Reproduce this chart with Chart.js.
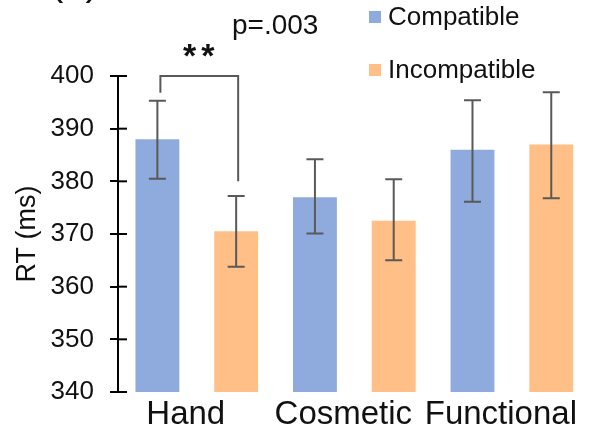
<!DOCTYPE html>
<html>
<head>
<meta charset="utf-8">
<script src="https://cdn.jsdelivr.net/npm/chart.js@4.4.1/dist/chart.umd.min.js"></script>
<style>
  html, body { margin: 0; padding: 0; background: #fff; }
  canvas { display: block; }
</style>
</head>
<body>
<canvas id="rtChart" width="591" height="432"></canvas>
<script>
const categories = ["Hand", "Cosmetic", "Functional"];
const compatible = [388, 377, 386];
const incompatible = [370.5, 372.5, 387];
// error bar ends (low / high)
const compatibleLow = [380.5, 370.1, 376.1];
const compatibleHigh = [395.3, 384.2, 395.4];
const incompatibleLow = [363.8, 365.0, 376.8];
const incompatibleHigh = [377.2, 380.4, 396.9];
// significance bracket over Hand: top, left end, right end
const bracketValues = [400, 396.8, 380];

const FONT = "'Liberation Sans', Arial, sans-serif";
const blue = "#8FAADC";
const orange = "#FFBF87";
const gray = "#595959";

const extras = {
  id: "extras",
  afterDatasetsDraw(chart) {
    const ctx = chart.ctx;
    const y = chart.scales.y;
    const area = chart.chartArea;
    ctx.save();

    // error bars
    const errs = [[compatibleLow, compatibleHigh], [incompatibleLow, incompatibleHigh]];
    ctx.strokeStyle = gray;
    ctx.lineWidth = 2;
    errs.forEach((pair, di) => {
      const meta = chart.getDatasetMeta(di);
      meta.data.forEach((bar, i) => {
        const yl = y.getPixelForValue(pair[0][i]);
        const yh = y.getPixelForValue(pair[1][i]);
        ctx.beginPath();
        ctx.moveTo(bar.x, yl); ctx.lineTo(bar.x, yh);
        ctx.moveTo(bar.x - 8.5, yl); ctx.lineTo(bar.x + 8.5, yl);
        ctx.moveTo(bar.x - 8.5, yh); ctx.lineTo(bar.x + 8.5, yh);
        ctx.stroke();
      });
    });

    // bracket
    const b0 = chart.getDatasetMeta(0).data[0];
    const b1 = chart.getDatasetMeta(1).data[0];
    ctx.beginPath();
    ctx.moveTo(b0.x + 3, y.getPixelForValue(bracketValues[1]));
    ctx.lineTo(b0.x + 3, y.getPixelForValue(bracketValues[0]));
    ctx.lineTo(b1.x + 2, y.getPixelForValue(bracketValues[0]));
    ctx.lineTo(b1.x + 2, y.getPixelForValue(bracketValues[2]));
    ctx.stroke();

    // inner half of the cross ticks
    ctx.strokeStyle = "#000";
    y.ticks.forEach(t => {
      const py = y.getPixelForValue(t.value);
      ctx.beginPath();
      ctx.moveTo(area.left, py); ctx.lineTo(area.left + 9, py);
      ctx.stroke();
    });

    // texts
    ctx.fillStyle = "#111";
    ctx.textBaseline = "alphabetic";
    ctx.textAlign = "left";
    ctx.font = "28px " + FONT;
    ctx.fillText("p=.003", 232, 34);
    ctx.font = "bold 34px " + FONT;
    ctx.letterSpacing = "5px";
    ctx.fillText("**", 183, 67);
    ctx.letterSpacing = "0px";
    ctx.font = "40px " + FONT;
    ctx.fillText("(b)", 50, -5);

    // legend
    chart.data.datasets.forEach((ds, i) => {
      const cy = 17 + i * 53;
      ctx.fillStyle = ds.backgroundColor;
      ctx.fillRect(369, cy - 6, 12, 12);
      ctx.fillStyle = "#111";
      ctx.font = "26px " + FONT;
      ctx.textBaseline = "middle";
      ctx.fillText(ds.label, 388, cy + 1);
    });
    ctx.restore();
  }
};

new Chart(document.getElementById("rtChart"), {
  type: "bar",
  data: {
    labels: categories,
    datasets: [
      { label: "Compatible", data: compatible, backgroundColor: blue },
      { label: "Incompatible", data: incompatible, backgroundColor: orange }
    ]
  },
  options: {
    responsive: false,
    animation: false,
    devicePixelRatio: 1,
    layout: { padding: { top: 76, right: 0, left: 0, bottom: 0 } },
    datasets: { bar: { categoryPercentage: 1.0, barPercentage: 0.557 } },
    plugins: { legend: { display: false }, tooltip: { enabled: false } },
    scales: {
      x: {
        grid: { display: false, drawTicks: false },
        border: { display: false },
        ticks: { color: "#111", font: { family: FONT, size: 33 }, padding: 3, labelOffset: -11, maxRotation: 0, autoSkip: false },
        afterFit(s) { s.height = 40; }
      },
      y: {
        min: 340,
        max: 400,
        ticks: { stepSize: 10, color: "#111", font: { family: FONT, size: 26 }, padding: 16 },
        grid: { drawOnChartArea: false, drawTicks: true, tickLength: 8, color: "#000", lineWidth: 2 },
        border: { display: true, color: "#000", width: 2 },
        title: { display: true, text: "RT (ms)", color: "#111", font: { family: FONT, size: 27 }, padding: { top: 11, bottom: 0 } },
        afterFit(s) { s.width = 118; }
      }
    }
  },
  plugins: [extras]
});
</script>
</body>
</html>
